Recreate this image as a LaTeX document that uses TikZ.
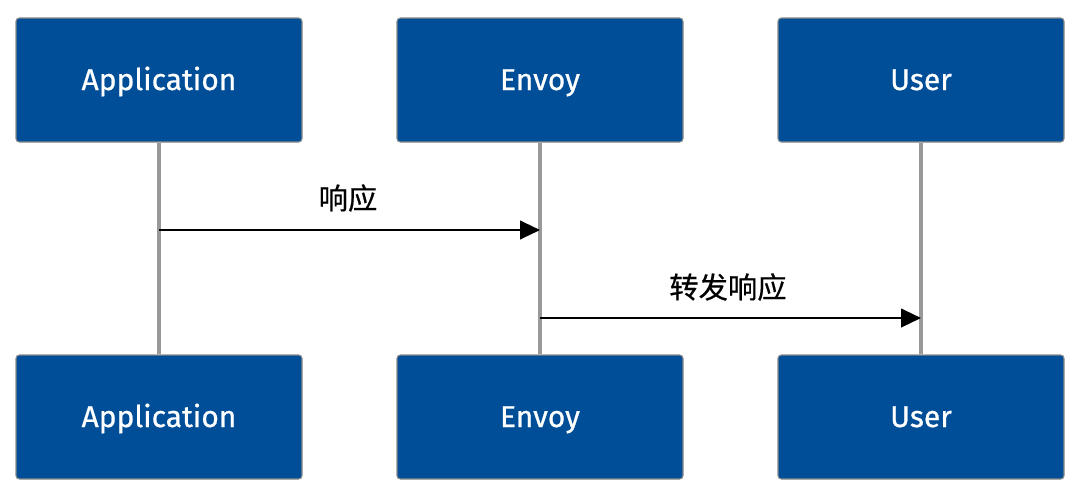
\documentclass[tikz,border=0pt]{standalone}
\usepackage{fontspec}
\newfontfamily\boxfont{Fira Sans}[FakeBold=0.7]
\newfontfamily\cjk{Noto Sans CJK SC}[FakeBold=0.5]
\usetikzlibrary{arrows.meta}
\definecolor{boxblue}{HTML}{004E98}
\definecolor{boxedge}{HTML}{8A8A8A}
\definecolor{lifegray}{HTML}{999999}
\def\ytop{80}
\def\ybot{417}

\begin{document}
\begin{tikzpicture}[
    x=0.75pt, y=-0.75pt,
    actor/.style={draw=boxedge, fill=boxblue, rounded corners=2.5pt, line width=0.8pt,
                  minimum width=214.5pt, minimum height=93pt, text=white,
                  text height=17pt, text depth=2pt,
                  font=\boxfont\fontsize{22.5}{26}\selectfont},
    lifeline/.style={lifegray, line width=2.4pt},
    msg/.style={-{Triangle[length=15pt, width=14pt]}, line width=1.6pt, black},
    msglab/.style={font=\cjk\fontsize{22}{26}\selectfont, inner sep=0pt},
]
\useasboundingbox (0,0) rectangle (1080,497);

% ---------------------------------------------------------- participants
\foreach \n/\t/\x in {app/Application/159, env/Envoy/540, usr/User/921} {
  \node[actor] (\n-top) at (\x, \ytop) {\t};
  \node[actor] (\n-bot) at (\x, \ybot) {\t};
}

% ---------------------------------------------------------- lifelines
\foreach \n in {app, env, usr} {
  \draw[lifeline] (\n-top.south) -- (\n-bot.north);
}

% ---------------------------------------------------------- messages
\coordinate (row1) at (0, 230);
\coordinate (row2) at (0, 318);
\coordinate (app-m1) at (app-top.south |- row1);
\coordinate (env-m1) at (env-top.south |- row1);
\coordinate (env-m2) at (env-top.south |- row2);
\coordinate (usr-m2) at (usr-top.south |- row2);

\draw[msg] (app-m1) -- (env-m1);
\node[msglab] (lab1) at (348, 198) {响应};

\draw[msg] (env-m2) -- (usr-m2);
\node[msglab] (lab2) at (728, 287) {转发响应};

\end{tikzpicture}
\end{document}
